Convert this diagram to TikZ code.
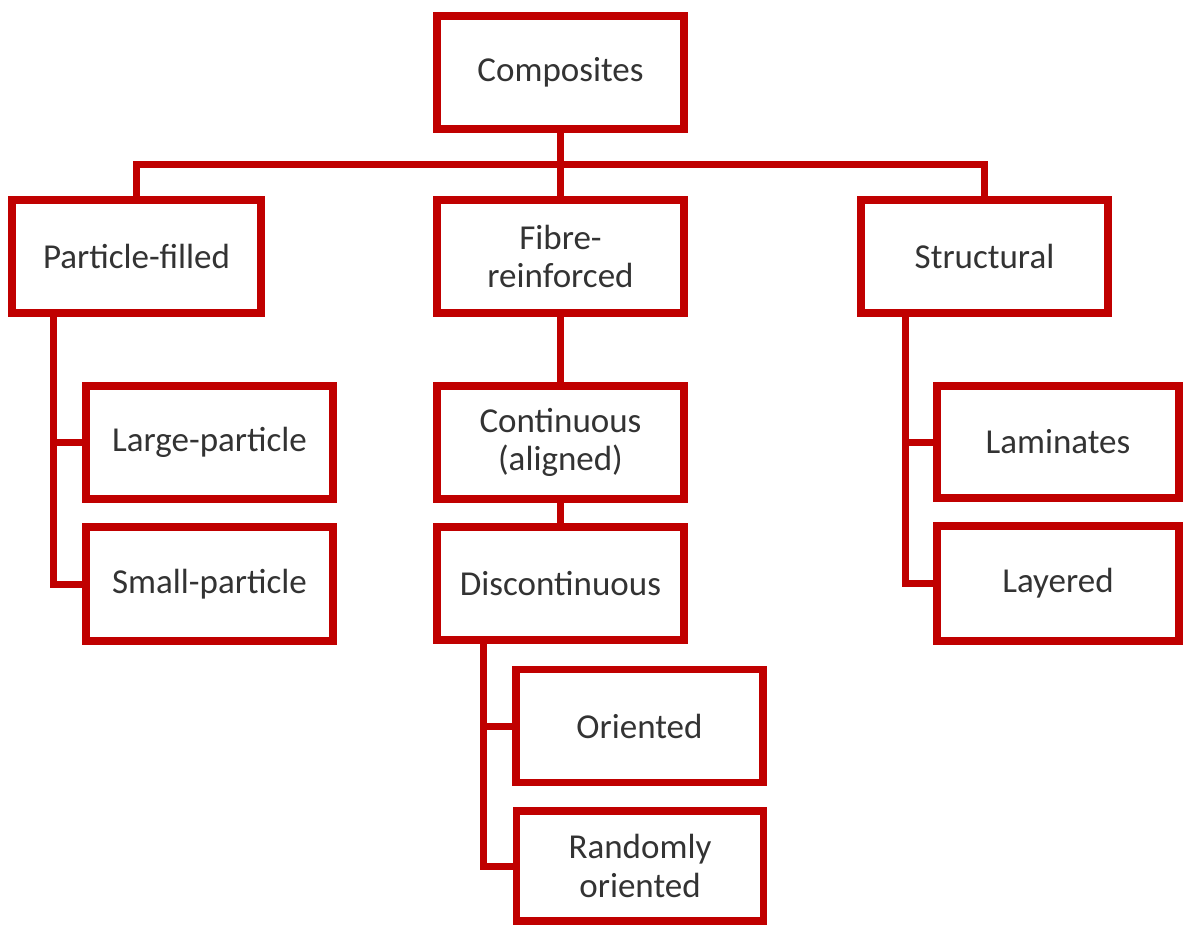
\documentclass[tikz,border=0pt]{standalone}
\usepackage{fontspec}
\setmainfont{Carlito}
\definecolor{boxred}{HTML}{C00000}
\definecolor{txtgray}{HTML}{333333}
\begin{document}
\begin{tikzpicture}[x=1pt,y=-1pt,
  catbox/.style={draw=boxred,line width=7.5pt,fill=white,rectangle,inner sep=0pt,
    minimum width=247pt,minimum height=113pt,align=center,text=txtgray,
    font=\fontsize{35}{38.5}\selectfont},
  link/.style={draw=boxred,line width=7pt,line join=miter}]
\useasboundingbox (0,0) rectangle (1184,925);
% nodes
\node[catbox] (comp) at (560.5,72.5) {Composites};
\node[catbox,minimum width=249pt] (pf) at (136.5,256.5) {Particle-filled};
\node[catbox] (fr) at (560.5,256.5) {Fibre-\\reinforced};
\node[catbox] (st) at (984.5,256.5) {Structural};
\node[catbox] (lp) at (209.5,442.5) {Large-particle};
\node[catbox,minimum height=114pt] (sp) at (209.5,584) {Small-particle};
\node[catbox] (co) at (560.5,442.5) {Continuous\\(aligned)};
\node[catbox] (dc) at (560.5,583.5) {Discontinuous};
\node[catbox,minimum width=242pt,minimum height=112pt] (lam) at (1058,442) {Laminates};
\node[catbox,minimum width=242pt,minimum height=115pt] (lay) at (1058,583.5) {Layered};
\node[catbox] (ori) at (639.5,726) {Oriented};
\node[catbox,minimum height=110pt] (rnd) at (640,866) {Randomly\\oriented};
% helper coordinates
\coordinate (bus) at (560.5,165);
\coordinate (lv) at (53,0);
\coordinate (rv) at (905,0);
\coordinate (dv) at (483,0);
% connectors
\draw[link] (comp.south) -- (fr.north);
\draw[link] (pf.north) |- (bus) -| (st.north);
\draw[link] (fr.south) -- (co.north);
\draw[link] (co.south) -- (dc.north);
\draw[link] (pf.south -| lv) |- (sp.west);
\draw[link] (lv |- lp.west) -- (lp.west);
\draw[link] (st.south -| rv) |- (lay.west);
\draw[link] (rv |- lam.west) -- (lam.west);
\draw[link] (dc.south -| dv) |- (rnd.west);
\draw[link] (dv |- ori.west) -- (ori.west);
\end{tikzpicture}
\end{document}
